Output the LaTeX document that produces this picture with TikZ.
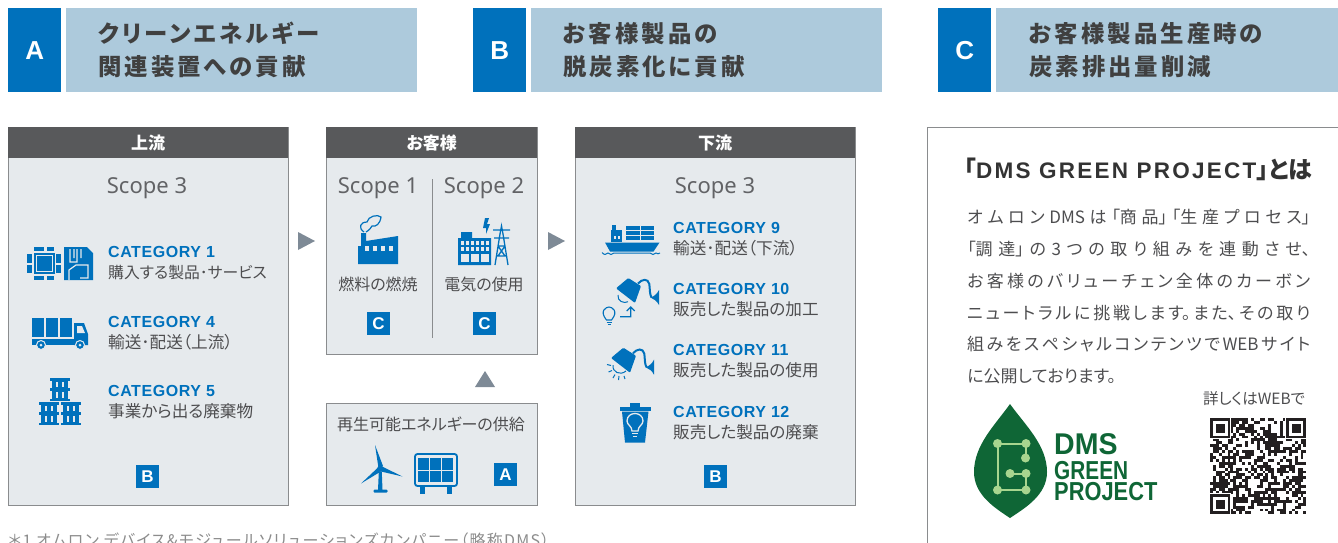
\documentclass[tikz,border=0pt]{standalone}
\usepackage{fontspec}
\setmainfont{Noto Sans}
\newfontfamily\jp[RawFeature=+palt]{Noto Sans CJK JP}
\newfontfamily\logofont{Liberation Sans}
\usetikzlibrary{calc}
\usetikzlibrary{positioning}
\definecolor{iconblue}{HTML}{0071BC}
\definecolor{bandblue}{HTML}{ADCADC}
\definecolor{panelgray}{HTML}{E6EAED}
\definecolor{headgray}{HTML}{58595B}
\definecolor{bordergray}{HTML}{8A8C8E}
\definecolor{textgray}{HTML}{4D4D4F}
\definecolor{scopegray}{HTML}{626366}
\definecolor{triangray}{HTML}{7E8A96}
\definecolor{leafgreen}{HTML}{0F6636}
\definecolor{leaflight}{HTML}{A8D58F}
\definecolor{qrink}{HTML}{231F20}
\newcommand{\fs}[1]{\fontsize{#1}{#1}\selectfont}
\tikzstyle{tile}=[fill=iconblue, text=white, anchor=north west, minimum width=53pt, minimum height=84pt, inner sep=0pt, font={\logofont\bfseries\fs{26}}]
\tikzstyle{band}=[fill=bandblue, anchor=north west, minimum width=351pt, minimum height=84pt, inner sep=0pt]
\tikzstyle{bandtext}=[anchor=west, align=left, inner sep=0pt, text=black!75, font={\jp\bfseries\fontsize{23.4}{33}\selectfont\addfontfeature{LetterSpace=13}}]
\tikzstyle{panel}=[fill=panelgray, draw=bordergray, line width=1pt, anchor=north west, inner sep=0pt]
\tikzstyle{head}=[fill=headgray, text=white, anchor=north west, inner sep=0pt, minimum height=31pt, font={\jp\bfseries\fs{17}}]
\tikzstyle{scope}=[text=scopegray, inner sep=0pt, font={\fs{22}}]
\tikzstyle{badge}=[fill=iconblue, text=white, minimum size=23pt, inner sep=0pt, font={\logofont\bfseries\fs{17}}]
\tikzstyle{catname}=[anchor=west, text=iconblue, inner sep=0pt, font={\logofont\bfseries\fs{16}\addfontfeature{LetterSpace=3.5}}]
\tikzstyle{catnote}=[anchor=west, text=textgray, inner sep=0pt, font={\jp\fs{16.6}}]
\tikzstyle{usenote}=[text=textgray, inner sep=0pt, font={\jp\fs{16}}]
\tikzstyle{logotext}=[anchor=west, inner sep=0pt, text=leafgreen, text depth=0pt]
\tikzstyle{triang}=[fill=triangray]
\tikzstyle{bluefill}=[fill=iconblue]
\tikzstyle{holefill}=[fill=panelgray]
\tikzstyle{hole}=[draw=panelgray]
\tikzstyle{blueline}=[draw=iconblue, line width=1.2pt]
\begin{document}
\begin{tikzpicture}[x=1pt, y=-1pt]

    \useasboundingbox (0, 0) rectangle (1338, 542);
    \clip (0, 0) rectangle (1338, 542);

    % title bands
    \node[tile] (tileA) at (8, 8) {A};
    \node[band] (bandA) at (66, 8) {};
    \node[bandtext] (titleA) at (98, 50) {クリーンエネルギー\\関連装置への貢献};

    \node[tile] (tileB) at (473, 8) {B};
    \node[band] (bandB) at (531, 8) {};
    \node[bandtext] (titleB) at (563, 50) {お客様製品の\\脱炭素化に貢献};

    \node[tile] (tileC) at (938, 8) {C};
    \node[band, minimum width=342pt] (bandC) at (996, 8) {};
    \node[bandtext] (titleC) at (1029, 50) {お客様製品生産時の\\炭素排出量削減};

    % panels
    \node[panel, minimum width=280pt, minimum height=378pt] (upstream) at (8, 127) {};
    \node[head, minimum width=280pt] (upstreamhead) at (8, 127) {上流};
    \node[panel, minimum width=211pt, minimum height=227pt] (customer) at (326, 127) {};
    \node[head, minimum width=211pt] (customerhead) at (326, 127) {お客様};
    \node[panel, minimum width=280pt, minimum height=378pt] (downstream) at (575, 127) {};
    \node[head, minimum width=280pt] (downstreamhead) at (575, 127) {下流};
    \node[panel, minimum width=211pt, minimum height=102pt] (supply) at (326, 403) {};

    \fill[triang] (298, 232) -- (315, 241) -- (298, 250) -- cycle;
    \fill[triang] (548, 232) -- (565, 241) -- (548, 250) -- cycle;
    \fill[triang] (475, 387) -- (485, 371) -- (495, 387) -- cycle;

    \node[scope] (scopeup) at (147, 188) {Scope 3};
    \node[scope] (scopeone) at (378, 188) {Scope 1};
    \node[scope] (scopetwo) at (484, 188) {Scope 2};
    \node[scope] (scopedown) at (715, 188) {Scope 3};
    \draw[bordergray, line width=1pt] (432, 179) -- (432, 338);

    % upstream categories
    \node[catname] (cat1) at (108, 252) {CATEGORY 1};
    \node[catnote, font={\jp\fs{15.8}}] (note1) at (108, 273) {購入する製品･サービス};
    \node[catname] (cat4) at (108, 322) {CATEGORY 4};
    \node[catnote] (note4) at (108, 342) {輸送･配送（上流）};
    \node[catname] (cat5) at (108, 391) {CATEGORY 5};
    \node[catnote] (note5) at (108, 411) {事業から出る廃棄物};
    \node[badge] (badgeup) at (147.5, 476.5) {B};

    % chip and card
    \fill[bluefill] (33.5, 253) rectangle (55, 274);
    \draw[hole, line width=.8pt] (36, 255.5) rectangle (52.5, 271.5);
    \foreach \py in {246.7, 275.7} {
        \fill[bluefill] (33.5, \py) rectangle (43.5, \py+4.6);
        \fill[bluefill] (46.5, \py) rectangle (54, \py+4.6);
    }
    \foreach \px in {27, 56} {
        \fill[bluefill] (\px, 254) rectangle (\px+4.8, 262.5);
        \fill[bluefill] (\px, 264.5) rectangle (\px+4.8, 273);
    }
    \fill[bluefill] (64, 247) -- (87, 247) -- (93, 253) -- (93, 280) -- (64, 280) -- cycle;
    \draw[hole, line width=1.2pt] (70, 249) -- (70, 262) -- (77, 262) -- (77, 249)
        (74, 249) -- (74, 258) (81, 249) -- (81, 258)
        (69, 280) -- (69, 270) -- (76, 265) -- (88, 265) -- (88, 278) -- (80, 278);

    % truck
    \foreach \px in {32, 46, 60} {
        \fill[bluefill] (\px, 318) rectangle (\px+12, 337);
    }
    \fill[bluefill] (32, 339) rectangle (88, 345);
    \fill[bluefill] (74, 323) -- (84, 323) -- (88, 334) -- (88, 345) -- (74, 345) -- cycle;
    \fill[holefill] (77, 326) -- (82, 326) -- (85, 333) -- (77, 333) -- cycle;
    \foreach \px in {41, 80} {
        \fill[bluefill, draw=panelgray, line width=1pt] (\px, 345) circle (4.5);
        \fill[holefill] (\px, 345) circle (1.5);
    }

    % barrels
    \foreach \px/\py in {50/378, 39/402, 61/402} {
        \fill[bluefill] (\px+2, \py) rectangle (\px+18, \py+23);
        \fill[bluefill] (\px, \py) rectangle (\px+20, \py+2.5);
        \fill[bluefill] (\px, \py+10) rectangle (\px+20, \py+13);
        \fill[bluefill] (\px, \py+20.5) rectangle (\px+20, \py+23);
        \foreach \qy in {3.5, 14} {
            \fill[holefill] (\px+6, \py+\qy) rectangle (\px+8, \py+\qy+5.5);
            \fill[holefill] (\px+12, \py+\qy) rectangle (\px+14, \py+\qy+5.5);
        }
    }

    % customer
    \fill[bluefill] (358, 264) -- (358, 246) -- (361, 246) -- (361, 233) -- (366, 233) -- (366, 241)
        -- (398, 236) -- (398, 264) -- cycle;
    \foreach \px in {364.5, 372.5, 380.5, 388.5} {
        \fill[holefill] (\px, 246) rectangle (\px+4.5, 250.5);
    }
    \draw[blueline] (364, 232) .. controls (358, 228) and (360, 222) .. (367, 222)
        .. controls (368, 216) and (378, 214) .. (381, 217)
        .. controls (380, 224) and (376, 227) .. (372, 226)
        .. controls (369, 231) and (367, 231) .. (366, 232);
    \node[usenote] (usefuel) at (378, 284) {燃料の燃焼};
    \node[badge] (badgefuel) at (378.5, 323.5) {C};

    \fill[bluefill] (458, 238) -- (461, 238) -- (461, 232) -- (472, 232) -- (472, 238) -- (491, 238)
        -- (491, 265) -- (458, 265) -- cycle;
    \foreach \px in {460.5, 465.5, 470.5, 475.5, 480.5, 485.5} {
        \fill[holefill] (\px, 241) rectangle (\px+3, 244.5);
        \fill[holefill] (\px, 247) rectangle (\px+3, 250.5);
    }
    \foreach \px in {460.5, 470.5, 480.5} {
        \fill[holefill] (\px, 254) rectangle (\px+8, 262);
    }
    \fill[bluefill] (485, 218) -- (483, 228) -- (486, 228) -- (486, 234) -- (490, 224) -- (487, 224) -- (489, 218) -- cycle;
    \draw[blueline, line width=1.3pt] (495, 265) -- (500, 234) -- (501.5, 226) -- (503, 234) -- (508, 265)
        (493, 230) -- (510, 230) (494, 238) -- (509, 238) (498, 246) -- (505, 246)
        (498, 246) -- (505, 256) (505, 246) -- (498, 256) (496, 256) -- (507, 256);
    \node[usenote] (useelec) at (484, 284) {電気の使用};
    \node[badge] (badgeelec) at (484.5, 323.5) {C};

    % supply
    \node[usenote] (supplytext) at (431, 424) {再生可能エネルギーの供給};
    \fill[bluefill] (378.5, 468) -- (375, 445) -- (383, 466) -- cycle;
    \fill[bluefill] (382, 466.5) -- (402.5, 476.5) -- (381, 471.5) -- cycle;
    \fill[bluefill] (378, 467.5) -- (361, 483.5) -- (380, 472) -- cycle;
    \fill[bluefill] (380.3, 468.7) circle (3.2);
    \fill[bluefill] (378.8, 472) -- (381.8, 472) -- (382.5, 490) -- (378, 490) -- cycle;
    \fill[bluefill, rounded corners=1pt] (373.5, 489.5) rectangle (387.5, 492.5);
    \draw[iconblue, line width=1.8pt, rounded corners=2.5pt] (415, 454) rectangle (457, 486);
    \foreach \px in {418, 430, 442} {
        \fill[bluefill] (\px, 458) rectangle (\px+11.2, 469.5);
        \fill[bluefill] (\px, 470.8) rectangle (\px+11.2, 482.3);
    }
    \fill[bluefill] (420, 487) rectangle (425, 494);
    \fill[bluefill] (447, 487) rectangle (452, 494);
    \node[badge] (badgesupply) at (505.5, 474.5) {A};

    % downstream categories
    \node[catname] (cat9) at (673, 228) {CATEGORY 9};
    \node[catnote] (note9) at (673, 248) {輸送･配送（下流）};
    \node[catname] (cat10) at (673, 289) {CATEGORY 10};
    \node[catnote] (note10) at (673, 309) {販売した製品の加工};
    \node[catname] (cat11) at (673, 350) {CATEGORY 11};
    \node[catnote] (note11) at (673, 370) {販売した製品の使用};
    \node[catname] (cat12) at (673, 412) {CATEGORY 12};
    \node[catnote] (note12) at (673, 432) {販売した製品の廃棄};
    \node[badge] (badgedown) at (715.5, 476.5) {B};

    % ship
    \fill[bluefill] (605, 242.5) -- (659.5, 242.5) -- (653.5, 251.5) -- (610, 251.5) -- cycle;
    \fill[bluefill] (611, 230) rectangle (622, 242);
    \fill[bluefill] (612, 225) rectangle (616, 230);
    \fill[holefill] (613.5, 236) rectangle (615.5, 238.5);
    \fill[holefill] (617.5, 236) rectangle (619.5, 238.5);
    \foreach \py in {226, 231, 236} {
        \fill[bluefill] (626, \py) rectangle (639.5, \py+4);
        \fill[bluefill] (640.5, \py) rectangle (654, \py+4);
    }
    \draw[blueline, line width=1pt] (602, 252.5) .. controls (604, 255) and (606, 255) .. (608, 253)
        .. controls (610, 255) and (612, 255) .. (614, 253) -- (650, 253)
        .. controls (652, 255) and (654, 255) .. (656, 253) .. controls (657, 254) and (659, 254) .. (660, 253);

    % poured buckets
    \foreach \bx/\by in {0/0, -5/69.7} {
        \begin{scope}[shift={(\bx, \by)}]
            \fill[bluefill, rounded corners=1pt] (616, 288.3) -- (628.3, 278) -- (641, 286) -- (635, 303) -- cycle;
            \draw[blueline, line width=2pt] (638, 283.5) .. controls (642, 279) and (648, 278) .. (649.3, 284)
                .. controls (650, 289) and (649.5, 294) .. (651.5, 297.5);
            \fill[bluefill] (650.5, 297.5) .. controls (654, 296.5) and (657, 294) .. (659, 290)
                -- (659, 305) .. controls (657, 301) and (654, 299) .. (650.5, 297.5) -- cycle;
        \end{scope}
    }
    \draw[blueline, line width=1pt] (618, 295) .. controls (617, 301) and (624, 304) .. (628, 301.7);
    \draw[blueline, line width=1.1pt] (606.5, 320) .. controls (599, 311) and (606, 307) .. (609, 307)
        .. controls (612, 307) and (619, 311) .. (611.5, 320) -- cycle;
    \draw[blueline, line width=1pt] (606.7, 322) -- (611.5, 322) (607.5, 324.5) -- (610.5, 324.5);
    \draw[blueline, line width=1.2pt] (620, 316.7) -- (630.7, 316.7) -- (630.7, 307.5) (626.7, 311) -- (630.7, 307) -- (634.7, 311);
    \draw[blueline, line width=1pt] (607, 364.5) -- (611, 365.5) (608.5, 372) -- (612, 370.5) (613, 378) -- (615, 374.5)
        (618.5, 380) -- (619, 376) (625, 379) -- (624, 376);
    \draw[blueline, line width=1pt] (613, 365) .. controls (612, 372) and (620, 376) .. (626, 371);

    % bin
    \fill[bluefill] (619.5, 407) rectangle (651, 410.5);
    \fill[bluefill] (630, 402.5) rectangle (640, 407);
    \fill[bluefill] (622, 411.5) -- (648.5, 411.5) -- (645, 442.5) -- (625, 442.5) -- cycle;
    \draw[hole, line width=1.3pt] (632, 431) .. controls (632, 426) and (627, 425) .. (627, 421)
        .. controls (627, 411) and (643, 411) .. (643, 421)
        .. controls (643, 425) and (638, 426) .. (638, 431) -- cycle;
    \draw[hole, line width=1.2pt] (632, 433.5) -- (638, 433.5) (633, 436.5) -- (637, 436.5);

    % right panel
    \draw[bordergray, line width=1pt] (927.5, 560) -- (927.5, 127.5) -- (1350, 127.5);
    \node[anchor=west, inner sep=0pt, text=black!80, font={\jp\bfseries\fs{24}}] (greentitle) at (964, 169) {「{\logofont\fs{22.5}\addfontfeature{LetterSpace=10}DMS GREEN PROJECT}」とは};
    \node[anchor=north west, inner sep=0pt, text width=343pt, align=justify, text=textgray, font={\jp\fontsize{17}{31.85}\selectfont}] (greenbody) at (967, 209) {\XeTeXlinebreaklocale "ja"\XeTeXlinebreakskip=0pt plus 5pt minus .5pt
        オムロンDMSは「商品」「生産プロセス」\linebreak
        「調達」の3つの取り組みを連動させ、\linebreak
        お客様のバリューチェン全体のカーボン\linebreak
        ニュートラルに挑戦します。また、その取り\linebreak
        組みをスペシャルコンテンツでWEBサイト\linebreak
        に公開しております。};
    \node[text=textgray, inner sep=0pt, font={\jp\fs{15.5}}] (webnote) at (1254, 399) {詳しくはWEBで};

    % leaf
    \fill[leafgreen] (1010, 404) .. controls (995, 425) and (974, 445) .. (974, 472)
        .. controls (974, 495) and (995, 508) .. (1010, 518)
        .. controls (1025, 508) and (1047, 495) .. (1047, 472)
        .. controls (1047, 445) and (1025, 425) .. (1010, 404) -- cycle;
    \draw[leaflight, line width=2pt] (1026, 458) -- (1026, 443.5) -- (997.5, 443.5) -- (997.5, 490) -- (1026, 490)
        -- (1026, 473.5) -- (1010, 473.5);
    \foreach \px/\py in {997.5/443.5, 1026/443.5, 1025.5/458, 1010/473.5, 1026/473.5, 1026/490, 997.5/490} {
        \fill[leaflight] (\px, \py) circle (4.5);
    }
    \node[logotext, text height=21.5pt, font={\logofont\bfseries\fs{30}}] (logodms) at (1054, 444) {\scalebox{.95}[1]{DMS}};
    \node[logotext, text height=18.7pt, font={\logofont\bfseries\fs{26}}] (logogreen) at (1054, 470) {\scalebox{.8}[1]{GREEN}};
    \node[logotext, text height=18.7pt, font={\logofont\bfseries\fs{26}}] (logoproject) at (1054, 491) {\scalebox{.84}[1]{PROJECT}};

    % code
    \pgfmathsetseed{23}
    \foreach \qi in {0, ..., 32} {
        \foreach \qj in {0, ..., 32} {
            \pgfmathparse{rnd < 0.55 ? 1 : 0}
            \ifnum\pgfmathresult=1
                \fill[qrink] (1210+\qi*2.92, 418+\qj*2.92) rectangle ++(2.92, 2.92);
            \fi
        }
    }
    \foreach \fx/\fy in {0/0, 26/0, 0/26} {
        \fill[white] (1210+\fx*2.92-1, 418+\fy*2.92-1) rectangle ++(22.4, 22.4);
        \fill[qrink] (1210+\fx*2.92, 418+\fy*2.92) rectangle ++(20.44, 20.44);
        \fill[white] (1210+\fx*2.92+2.92, 418+\fy*2.92+2.92) rectangle ++(14.6, 14.6);
        \fill[qrink] (1210+\fx*2.92+5.84, 418+\fy*2.92+5.84) rectangle ++(8.76, 8.76);
    }

    % footnote
    \node[anchor=west, inner sep=0pt, text=black!45, font={\jp\fs{16}\addfontfeature{LetterSpace=7.7}}] (footnote) at (8, 540.5) {＊1 オムロン デバイス\&モジュールソリューションズカンパニー（略称DMS）};

\end{tikzpicture}
\end{document}
